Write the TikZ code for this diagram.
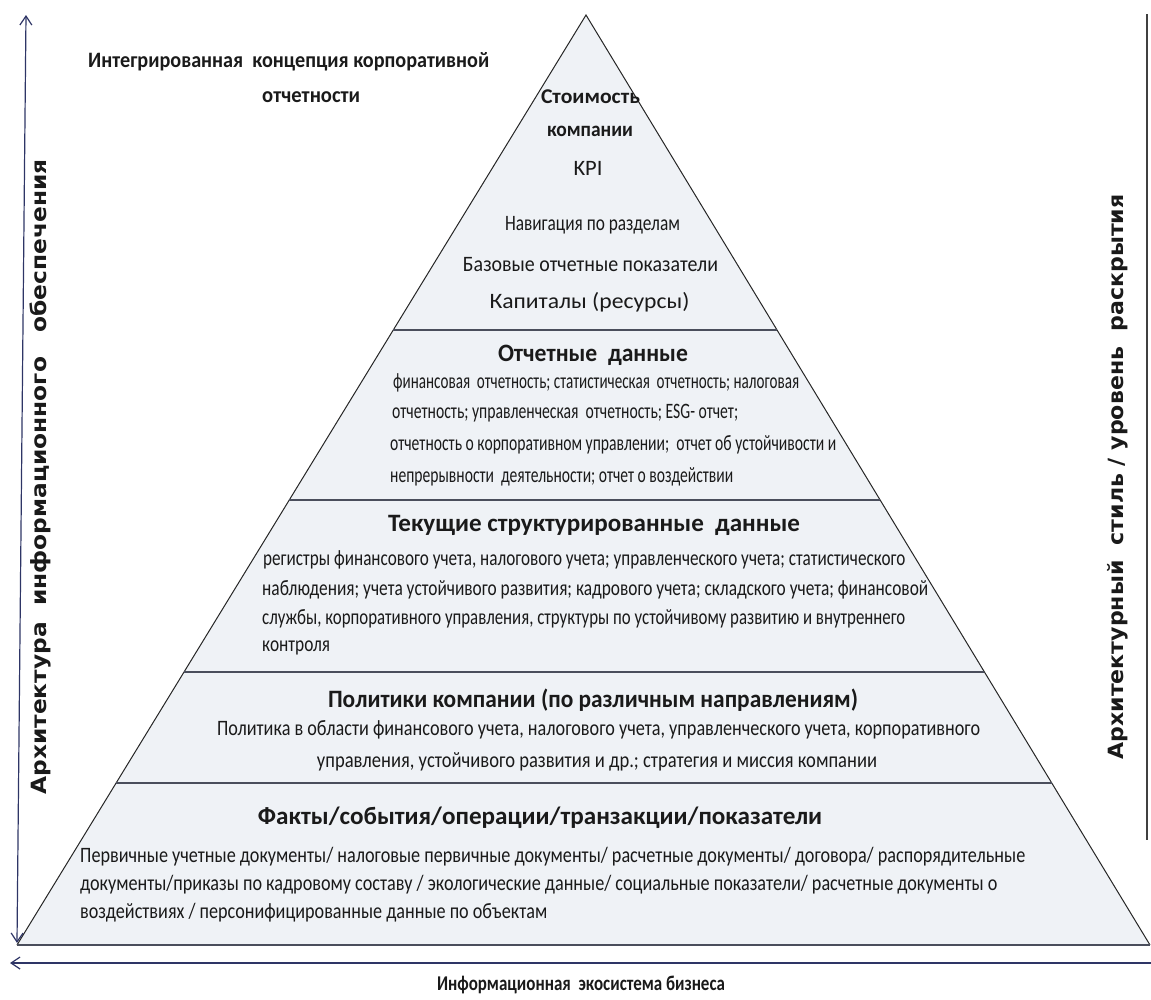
\documentclass[tikz,border=0pt]{standalone}
\usepackage{fontspec}
\usepackage{graphicx}
\setmainfont{Carlito}
\newfontfamily\axisfont{DejaVu Sans}
\usetikzlibrary{arrows.meta,calc}
\definecolor{pyrfill}{HTML}{EFF2F6}
\definecolor{navy}{HTML}{2E3566}
\definecolor{divline}{HTML}{4A4E5C}
\definecolor{txt}{HTML}{1A1A1A}
\newcommand{\fw}[2]{\resizebox{#1pt}{\height}{#2}}
\begin{document}
\begin{tikzpicture}[x=1pt,y=-1pt,
  body/.style={font=\fontsize{22}{26}\selectfont, text=txt, inner sep=0pt},
  head/.style={font=\bfseries\fontsize{25}{29}\selectfont, text=txt, inner sep=0pt},
  toph/.style={font=\bfseries\fontsize{21}{25}\selectfont, text=txt, inner sep=0pt},
  titletext/.style={font=\bfseries\fontsize{22}{26}\selectfont, text=txt, inner sep=0pt},
  axistext/.style={font=\axisfont\bfseries\fontsize{21}{25}\selectfont, text=txt, inner sep=0pt, rotate=90},
  divider/.style={draw=divline, line width=2pt},
  axisline/.style={draw=navy, line width=1.2pt}
]
\useasboundingbox (0,0) rectangle (1151,999);
\coordinate (apex) at (586,15);
\coordinate (bl) at (17,945);
\coordinate (br) at (1150,945);
% pyramid
\fill[pyrfill] (apex) -- (bl) -- (br) -- cycle;
\draw[draw=black!85, line width=1pt] (bl) -- (apex) -- (br);
\draw[draw=divline, line width=2.2pt] (bl) -- (br);
% dividers
\foreach \t/\n in {0.3387/a,0.5215/b,0.7065/c,0.8258/d}{
  \coordinate (L\n) at ($(apex)!\t!(bl)$);
  \coordinate (R\n) at ($(apex)!\t!(br)$);
  \draw[divider] (L\n) -- (R\n);
}
% axes
\coordinate (lt) at (26,15);
\coordinate (lb) at (17,943);
\draw[axisline, {Straight Barb[length=9pt,width=12pt]}-{Straight Barb[length=9pt,width=12pt]}] (lb) -- (lt);
\coordinate (bra) at (1151,963);
\coordinate (bla) at (10,963);
\draw[axisline, -{Straight Barb[length=9pt,width=12pt]}] (bra) -- (bla);
\coordinate (rt) at (1147,14);
\coordinate (rb) at (1147,840);
\draw[draw=black!75, line width=1.5pt] (rt) -- (rb);
% titles
\node[titletext, anchor=west] (t1) at (88,62) {\fw{401}{Интегрированная\ \ концепция корпоративной}};
\node[titletext, anchor=west] (t2) at (262,97) {\fw{98}{отчетности}};
% top section
\node[toph] (s1a) at (590.5,97) {\fw{99}{Стоимость}};
\node[toph] (s1b) at (590,131) {\fw{86}{компании}};
\node[body] (kpi) at (588,168) {\fw{29}{KPI}};
\node[body] (nav) at (592.5,225) {\fw{175}{Навигация по разделам}};
\node[body] (bas) at (590.5,265) {\fw{255}{Базовые отчетные показатели}};
\node[body] (cap) at (589.5,302) {\fw{200}{Капиталы (ресурсы)}};
% section 2
\node[head] (h2) at (593,355) {\fw{190}{Отчетные\ \ данные}};
\node[body, anchor=west] (b21) at (393,383) {\fw{406}{финансовая\ \ отчетность; статистическая\ \ отчетность; налоговая}};
\node[body, anchor=west] (b22) at (392,413) {\fw{346}{отчетность; управленческая\ \ отчетность; ESG- отчет;}};
\node[body, anchor=west] (b23) at (390,445) {\fw{446}{отчетность о корпоративном управлении;\ \ отчет об устойчивости и}};
\node[body, anchor=west] (b24) at (390,477) {\fw{343}{непрерывности\ \ деятельности; отчет о воздействии}};
% section 3
\node[head] (h3) at (594,525) {\fw{412}{Текущие структурированные\ \ данные}};
\node[body, anchor=west] (b31) at (263,560) {\fw{642}{регистры финансового учета, налогового учета; управленческого учета; статистического}};
\node[body, anchor=west] (b32) at (262,590) {\fw{666}{наблюдения; учета устойчивого развития; кадрового учета; складского учета; финансовой}};
\node[body, anchor=west] (b33) at (262,619) {\fw{643}{службы, корпоративного управления, структуры по устойчивому развитию и внутреннего}};
\node[body, anchor=west] (b34) at (262,648) {\fw{68}{контроля}};
% section 4
\node[head] (h4) at (593,700) {\fw{530}{Политики компании (по различным направлениям)}};
\node[body] (b41) at (598.5,730) {\fw{763}{Политика в области финансового учета, налогового учета, управленческого учета, корпоративного}};
\node[body] (b42) at (597,762) {\fw{560}{управления, устойчивого развития и др.; стратегия и миссия компании}};
% section 5
\node[head] (h5) at (540,818) {\fw{564}{Факты/события/операции/транзакции/показатели}};
\node[body, anchor=west] (b51) at (80,857) {\fw{945}{Первичные учетные документы/ налоговые первичные документы/ расчетные документы/ договора/ распорядительные}};
\node[body, anchor=west] (b52) at (80,885) {\fw{917}{документы/приказы по кадровому составу / экологические данные/ социальные показатели/ расчетные документы о}};
\node[body, anchor=west] (b53) at (80,913) {\fw{467}{воздействиях / персонифицированные данные по объектам}};
% axis labels
\node[axistext] (la) at (40,477) {\fw{635}{Архитектура\ \ информационного\ \ \ обеспечения}};
\node[axistext] (ra) at (1118,477) {\fw{565}{Архитектурный\ \ стиль / уровень\ \ раскрытия}};
\node[titletext, font=\bfseries\fontsize{21}{25}\selectfont] (bt) at (581,985) {\fw{288}{Информационная\ \ экосистема бизнеса}};
\end{tikzpicture}
\end{document}
